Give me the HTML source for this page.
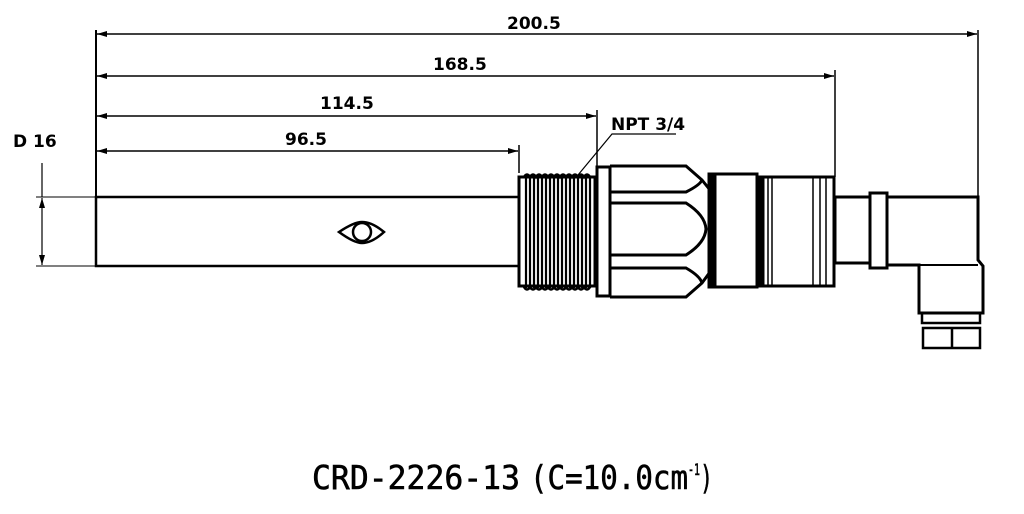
<!DOCTYPE html>
<html><head><meta charset="utf-8"><style>
html,body{margin:0;padding:0;background:#fff;width:1024px;height:514px;overflow:hidden}
svg{display:block}
.d{font-family:"DejaVu Sans","Liberation Sans",sans-serif;font-weight:bold;font-size:17px;fill:#000}
</style></head><body>
<svg width="1024" height="514" viewBox="0 0 1024 514" xmlns="http://www.w3.org/2000/svg">
<defs>
<marker id="a" viewBox="0 0 10 6" refX="10" refY="3" markerWidth="10" markerHeight="6" orient="auto-start-reverse" markerUnits="userSpaceOnUse"><path d="M0,0 L10,3 L0,6 z" fill="#000"/></marker>
</defs>
<g stroke="#000" fill="none">
<line x1="96" y1="30" x2="96" y2="267" stroke-width="2"/>
<line x1="978" y1="30" x2="978" y2="197" stroke-width="1.5"/>
<line x1="835" y1="70" x2="835" y2="177" stroke-width="1.5"/>
<line x1="597" y1="110" x2="597" y2="166" stroke-width="1.5"/>
<line x1="519" y1="145" x2="519" y2="173" stroke-width="1.5"/>
<line x1="97" y1="34" x2="977" y2="34" stroke-width="1.5" marker-start="url(#a)" marker-end="url(#a)"/>
<line x1="97" y1="76" x2="834" y2="76" stroke-width="1.5" marker-start="url(#a)" marker-end="url(#a)"/>
<line x1="97" y1="116" x2="596" y2="116" stroke-width="1.5" marker-start="url(#a)" marker-end="url(#a)"/>
<line x1="97" y1="151" x2="518" y2="151" stroke-width="1.5" marker-start="url(#a)" marker-end="url(#a)"/>
<line x1="36" y1="197" x2="96" y2="197" stroke-width="1"/>
<line x1="36" y1="266" x2="96" y2="266" stroke-width="1"/>
<line x1="42" y1="163" x2="42" y2="197" stroke-width="1.2"/>
<line x1="42" y1="198" x2="42" y2="265" stroke-width="1.2" marker-start="url(#a)" marker-end="url(#a)"/>
<polyline points="676,134 612,134 578,175" stroke-width="1.2"/>
<rect x="96" y="197" width="423" height="69" stroke-width="2.5"/>
<path d="M339,232 Q354,222 362,222 Q372,222 384,232 Q372,243 362,243 Q354,243 339,232 z" stroke-width="2.5"/>
<circle cx="362" cy="232" r="9" stroke-width="2.5"/>
<rect x="519" y="177" width="76" height="109" stroke-width="3"/>
<g stroke-width="2.2">
<line x1="526" y1="176" x2="526" y2="288"/><line x1="530" y1="176" x2="530" y2="288"/><line x1="534" y1="176" x2="534" y2="288"/><line x1="538" y1="176" x2="538" y2="288"/><line x1="542" y1="176" x2="542" y2="288"/><line x1="546" y1="176" x2="546" y2="288"/><line x1="550" y1="176" x2="550" y2="288"/><line x1="554" y1="176" x2="554" y2="288"/><line x1="558" y1="176" x2="558" y2="288"/><line x1="562" y1="176" x2="562" y2="288"/><line x1="566" y1="176" x2="566" y2="288"/><line x1="570" y1="176" x2="570" y2="288"/><line x1="574" y1="176" x2="574" y2="288"/><line x1="578" y1="176" x2="578" y2="288"/><line x1="582" y1="176" x2="582" y2="288"/><line x1="586" y1="176" x2="586" y2="288"/><line x1="590" y1="176" x2="590" y2="288"/>
</g>
<path d="M524,177 q3,-5 6,0 q3,-5 6,0 q3,-5 6,0 q3,-5 6,0 q3,-5 6,0 q3,-5 6,0 q3,-5 6,0 q3,-5 6,0 q3,-5 6,0 q3,-5 6,0 q3,-5 6,0" stroke-width="2.5"/>
<path d="M524,287 q3,5 6,0 q3,5 6,0 q3,5 6,0 q3,5 6,0 q3,5 6,0 q3,5 6,0 q3,5 6,0 q3,5 6,0 q3,5 6,0 q3,5 6,0 q3,5 6,0" stroke-width="2.5"/>
<path d="M597,167 H610 V296 H597 z" stroke-width="3"/>
<path d="M610,166 H686 L702,180 L710,190 V272 L702,283 L686,297 H610" stroke-width="3"/>
<path d="M610,192 H686 Q700,185 702,180" stroke-width="3"/>
<path d="M610,203 H686 Q705,215 706,229 Q705,243 686,255 H610" stroke-width="3"/>
<path d="M610,268 H686 Q700,276 702,283" stroke-width="3"/>
<rect x="708" y="173" width="7" height="115" fill="#000" stroke-width="1"/>
<rect x="715" y="174" width="42" height="113" stroke-width="3"/>
<rect x="757" y="176" width="6" height="111" fill="#000" stroke-width="1"/>
<rect x="763" y="177" width="71" height="109" stroke-width="3"/>
<line x1="768" y1="177" x2="768" y2="286" stroke-width="1.5"/>
<line x1="772" y1="177" x2="772" y2="286" stroke-width="1.5"/>
<line x1="813" y1="177" x2="813" y2="286" stroke-width="1.5"/>
<line x1="820" y1="177" x2="820" y2="286" stroke-width="1.5"/>
<line x1="826" y1="177" x2="826" y2="286" stroke-width="1.5"/>
<rect x="835" y="197" width="35" height="66" stroke-width="3"/>
<rect x="870" y="193" width="17" height="75" stroke-width="3"/>
<path d="M887,197 H978 V260 L983,266 V313 H919 V265 H887" stroke-width="3"/>
<line x1="919" y1="265" x2="978" y2="265" stroke-width="2"/>
<rect x="922" y="313" width="58" height="10" stroke-width="2.5"/>
<rect x="923" y="328" width="57" height="20" stroke-width="2.5"/>
<line x1="952" y1="328" x2="952" y2="348" stroke-width="2.5"/>
</g>
<text class="d" x="507" y="29">200.5</text>
<text class="d" x="433" y="70">168.5</text>
<text class="d" x="320" y="109">114.5</text>
<text class="d" x="285" y="145">96.5</text>
<text class="d" x="611" y="130">NPT 3/4</text>
<text class="d" x="13" y="147">D 16</text>
<g style="font-family:'DejaVu Sans Mono','Liberation Mono',monospace;font-size:33px;fill:#000;stroke:#000;stroke-width:0.6">
<text x="312" y="489" textLength="208" lengthAdjust="spacingAndGlyphs">CRD-2226-13</text>
<text x="530" y="489" textLength="158" lengthAdjust="spacingAndGlyphs">(C=10.0cm</text>
<text x="688" y="475" font-size="16" textLength="12" lengthAdjust="spacingAndGlyphs">-1</text>
<text x="700" y="489" textLength="13" lengthAdjust="spacingAndGlyphs">)</text>
</g>
</svg>
</body></html>
